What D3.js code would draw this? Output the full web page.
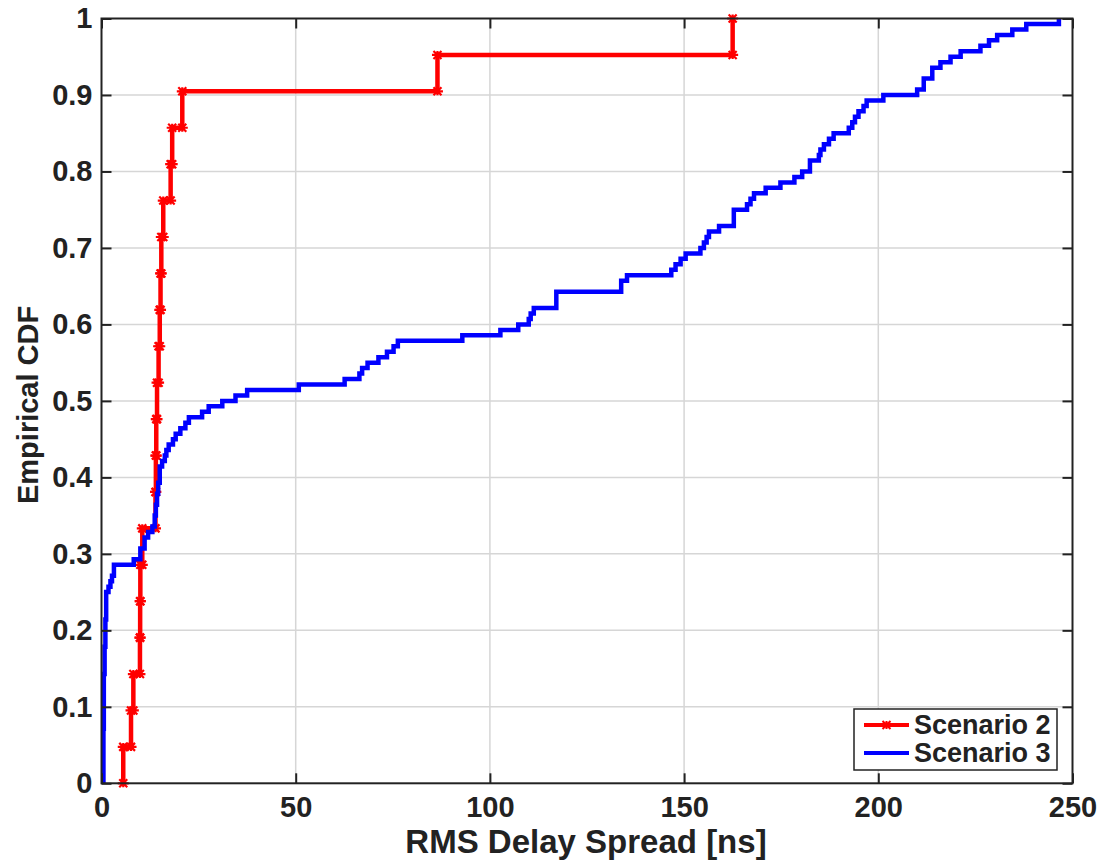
<!DOCTYPE html>
<html>
<head>
<meta charset="utf-8">
<script src="https://cdn.jsdelivr.net/npm/d3@7"></script>
<style>
  body { margin: 0; background: #fff; }
  text { font-family: "Liberation Sans", Arial, sans-serif; font-weight: bold; fill: #222; }
</style>
</head>
<body>
<svg id="chart"></svg>
<script>
// Scenario 2: 21 sorted RMS delay spread samples [ns]
const scenario2 = [5.6, 7.6, 8.2, 9.9, 9.95, 10.0, 10.5, 13.9, 14.0, 14.1, 14.3,
  14.7, 15.0, 15.2, 15.4, 15.9, 17.8, 18.2, 20.8, 86.5, 162.5];

// Scenario 3: jump positions [ns] and cumulative sample count (out of 140)
const scenario3N = 140;
const scenario3X = [0.5, 0.6, 0.8, 1.0, 1.2, 1.8, 2.3, 2.7, 3.2, 8.3, 10.0, 11.1, 12.0, 13.1,
  13.7, 14.0, 14.3, 14.6, 15.0, 15.6, 16.3, 16.7, 17.3, 18.4, 19.1, 20.3, 21.6, 22.5, 25.9,
  27.6, 31.1, 34.5, 37.5, 50.8, 62.6, 66.4, 67.1, 68.5, 71.3, 73.5, 75.2, 76.3, 92.9, 102.7,
  107.3, 110.0, 110.5, 111.3, 117.1, 133.8, 135.3, 146.7, 147.8, 149.1, 150.4, 154.2, 155.1,
  155.8, 156.4, 159.0, 162.8, 166.2, 167.1, 168.0, 171.0, 174.8, 178.4, 180.4, 182.4, 184.7,
  185.1, 186.0, 187.3, 188.5, 192.4, 193.3, 194.0, 194.9, 196.2, 197.0, 201.3, 210.0, 211.7,
  213.9, 216.0, 218.6, 221.2, 226.3, 228.5, 230.6, 234.5, 238.1, 246.5];
const scenario3K = [10, 20, 25, 30, 35, 36, 37, 38, 40, 41, 43, 45, 46, 47,
  49, 51, 53, 55, 58, 59, 60, 61, 62, 63, 64, 65, 66, 67, 68,
  69, 70, 71, 72, 73, 74, 75, 76, 77, 78, 79, 80, 81, 82, 83,
  84, 85, 86, 87, 90, 92, 93, 94, 95, 96, 97, 98, 99,
  100, 101, 102, 105, 106, 107, 108, 109, 110, 111, 112, 114, 115,
  116, 117, 118, 119, 120, 121, 122, 123, 124, 125, 126, 127, 129,
  131, 132, 133, 134, 135, 136, 137, 138, 139, 140];

const xTicks = [0, 50, 100, 150, 200, 250];
const yTicks = [0, 0.1, 0.2, 0.3, 0.4, 0.5, 0.6, 0.7, 0.8, 0.9, 1];
const seriesNames = ['Scenario 2', 'Scenario 3'];
const seriesColors = ['#ff0000', '#0000ff'];

const W = 1109, H = 862;
const margin = { top: 18.5, right: 36.5, bottom: 78.7, left: 101.5 };
const width = W - margin.left - margin.right;
const height = H - margin.top - margin.bottom;

const svg = d3.select('#chart').attr('width', W).attr('height', H);
const g = svg.append('g').attr('transform', `translate(${margin.left},${margin.top})`);

const x = d3.scaleLinear().domain([0, 250]).range([0, width]);
const y = d3.scaleLinear().domain([0, 1]).range([height, 0]);

// grid
g.append('g').selectAll('line').data(xTicks.slice(1, -1)).enter().append('line')
  .attr('x1', d => x(d)).attr('x2', d => x(d)).attr('y1', 0).attr('y2', height)
  .attr('stroke', '#d6d6d6').attr('stroke-width', 1.5);
g.append('g').selectAll('line').data(yTicks.slice(1, -1)).enter().append('line')
  .attr('y1', d => y(d)).attr('y2', d => y(d)).attr('x1', 0).attr('x2', width)
  .attr('stroke', '#d6d6d6').attr('stroke-width', 1.5);

// build stair vertices
function stairs(xs, ks, n)
{
  const pts = [[xs[0], 0]];
  let prev = 0;
  xs.forEach((v, i) =>
  {
    if (i > 0) pts.push([v, prev / n]);
    pts.push([v, ks[i] / n]);
    prev = ks[i];
  });
  return pts;
}

const redPts = stairs(scenario2, scenario2.map((d, i) => i + 1), scenario2.length);
const bluePts = stairs(scenario3X, scenario3K, scenario3N);

const line = d3.line().x(d => x(d[0])).y(d => y(d[1]));

g.append('path').datum(redPts).attr('d', line)
  .attr('fill', 'none').attr('stroke', seriesColors[0]).attr('stroke-width', 4.5);

const star = 'M-4,-4L4,4M-4,4L4,-4M-5.5,0L5.5,0M0,-4L0,4';
g.append('g').selectAll('path').data(redPts).enter().append('path')
  .attr('d', star)
  .attr('transform', d => `translate(${x(d[0])},${y(d[1])})`)
  .attr('stroke', seriesColors[0]).attr('stroke-width', 2.2).attr('fill', 'none');

g.append('path').datum(bluePts).attr('d', line)
  .attr('fill', 'none').attr('stroke', seriesColors[1]).attr('stroke-width', 4.5);

// axes (inward ticks on all sides)
const axisColor = '#222';
const xAxis = g.append('g').attr('transform', `translate(0,${height})`)
  .call(d3.axisBottom(x).tickValues(xTicks).tickSize(-10).tickPadding(14).tickFormat(d => d));
const yAxis = g.append('g')
  .call(d3.axisLeft(y).tickValues(yTicks).tickSize(-10).tickPadding(9).tickFormat(d => String(d)));
const xTop = g.append('g').call(d3.axisTop(x).tickValues(xTicks).tickSize(-10).tickFormat(''));
const yRight = g.append('g').attr('transform', `translate(${width},0)`)
  .call(d3.axisRight(y).tickValues(yTicks).tickSize(-10).tickFormat(''));

[xAxis, yAxis, xTop, yRight].forEach(a =>
{
  a.select('.domain').remove();
  a.selectAll('.tick line').attr('stroke', axisColor).attr('stroke-width', 2);
  a.selectAll('text').style('font-size', '29px').attr('fill', axisColor);
});
xAxis.selectAll('text').attr('dy', '0.68em');

g.append('rect').attr('width', width).attr('height', height)
  .attr('fill', 'none').attr('stroke', axisColor).attr('stroke-width', 2);

// axis labels
svg.append('text')
  .attr('x', margin.left + width / 2 - 1).attr('y', 853)
  .attr('text-anchor', 'middle').style('font-size', '33px')
  .text('RMS Delay Spread [ns]');
svg.append('text')
  .attr('transform', `translate(38,${margin.top + height / 2 + 4}) rotate(-90)`)
  .attr('text-anchor', 'middle').style('font-size', '29px')
  .text('Empirical CDF');

// legend
const legend = svg.append('g').attr('transform', 'translate(854,709)');
legend.append('rect').attr('width', 203).attr('height', 61)
  .attr('fill', '#fff').attr('stroke', axisColor).attr('stroke-width', 1.5);
seriesNames.forEach((name, i) =>
{
  const ly = 16 + i * 28;
  legend.append('line').attr('x1', 10).attr('x2', 55).attr('y1', ly).attr('y2', ly)
    .attr('stroke', seriesColors[i]).attr('stroke-width', 4);
  if (i === 0)
  {
    legend.append('path').attr('d', star).attr('transform', `translate(32.5,${ly})`)
      .attr('stroke', seriesColors[i]).attr('stroke-width', 2).attr('fill', 'none');
  }
  legend.append('text').attr('x', 60).attr('y', ly).attr('dy', '0.35em')
    .style('font-size', '27px').text(name);
});
</script>
</body>
</html>
